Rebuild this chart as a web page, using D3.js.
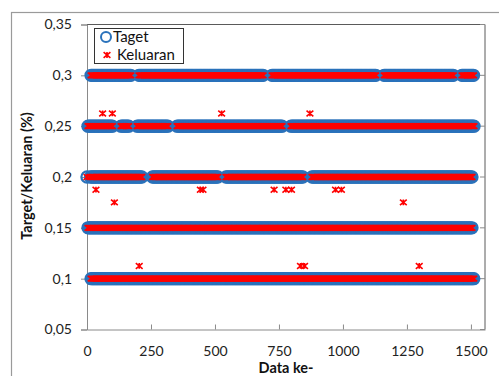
<!DOCTYPE html>
<html><head><meta charset="utf-8">
<script src="https://cdn.jsdelivr.net/npm/d3@7/dist/d3.min.js"></script>
<style>html,body{margin:0;padding:0;background:#fff;} svg{display:block}</style>
</head><body>
<script>
// ---- data ----
const xTickValues = [0, 250, 500, 750, 1000, 1250, 1500];
const yTickValues = [0.05, 0.1, 0.15, 0.2, 0.25, 0.3, 0.35];
const yTickLabels = ["0,05", "0,1", "0,15", "0,2", "0,25", "0,3", "0,35"];
const targetLevels = [0.1, 0.15, 0.2, 0.25, 0.3];
const recordStep = 5; // each target level recurs every 5 records ("Data ke-")
// record ranges in which each target level is present (small gaps visible in picture)
const runs010 = [[16, 1512]];
const runs015 = [[4, 1508]];
const runs020 = [[0, 0], [14, 218], [256, 511], [543, 847], [879, 1508]];
const runs025 = [[4, 101], [133, 164], [196, 320], [352, 765], [797, 1512]];
const runs030 = [[16, 171], [203, 691], [723, 1129], [1161, 1433], [1465, 1512]];
const levelRuns = [runs010, runs015, runs020, runs025, runs030];
// Keluaran points that deviate from the target
const keluaranOffX = [61, 99, 526, 871, 35, 443, 453, 731, 777, 799, 971, 994, 107, 1236, 204, 834, 850, 1298];
const keluaranOffY = [0.2625, 0.2625, 0.2625, 0.2625, 0.1875, 0.1875, 0.1875, 0.1875, 0.1875, 0.1875, 0.1875, 0.1875, 0.175, 0.175, 0.1125, 0.1125, 0.1125, 0.1125];

(function () {
// ---- build point table ----
const targetPts = [];
levelRuns.forEach((runs, li) => {
  runs.forEach(([a, b]) => {
    for (let v = a; v <= b; v += recordStep) targetPts.push({x: v, y: targetLevels[li]});
  });
});
const keluaranPts = targetPts.map(d => ({x: d.x, y: d.y}))
  .concat(keluaranOffX.map((v, i) => ({x: v, y: keluaranOffY[i]})));

// ---- drawing ----
const W = 499, H = 376;
const mLeft = 87, mRight = 485, mTop = 24.5, mBottom = 329.5;
const blue = "#2a72bb", red = "#ff0000";
const font = "Lato, 'Open Sans', sans-serif";

const svg = d3.select("body").append("svg").attr("width", W).attr("height", H);
svg.append("rect").attr("width", W).attr("height", H).attr("fill", "#fff");
svg.append("rect").attr("x", 11.5).attr("y", 12.5).attr("width", 600).attr("height", 400)
  .attr("fill", "none").attr("stroke", "#9a9a9a").attr("stroke-width", 1.2);

const x = d3.scaleLinear().domain([0, 1555]).range([mLeft, mRight]);
const y = d3.scaleLinear().domain([0.05, 0.35]).range([mBottom, mTop]);

// plot frame
svg.append("line").attr("x1", mLeft).attr("x2", mRight).attr("y1", mTop).attr("y2", mTop).attr("stroke", "#5a5a5a");
svg.append("line").attr("x1", mRight).attr("x2", mRight).attr("y1", mTop).attr("y2", mBottom).attr("stroke", "#5a5a5a");

// y axis
const yAxis = svg.append("g").attr("transform", `translate(${mLeft},0)`)
  .call(d3.axisLeft(y).tickValues(yTickValues).tickSize(6).tickPadding(9)
    .tickFormat((d, i) => yTickLabels[i]));
yAxis.select(".domain").attr("stroke", "#8a8a8a");
yAxis.selectAll(".tick line").attr("stroke", "#8a8a8a");
yAxis.selectAll("text").attr("font-family", font).attr("font-size", 14).attr("fill", "#222");

// right inner ticks
svg.append("g").selectAll("line").data(yTickValues).join("line")
  .attr("x1", mRight - 5).attr("x2", mRight).attr("y1", d => y(d)).attr("y2", d => y(d))
  .attr("stroke", "#8a8a8a");

// x axis
const xAxis = svg.append("g").attr("transform", `translate(0,${mBottom})`)
  .call(d3.axisBottom(x).tickValues(xTickValues).tickSizeInner(-5).tickSizeOuter(0).tickPadding(17)
    .tickFormat(d3.format("d")));
xAxis.select(".domain").attr("stroke", "#8a8a8a");
xAxis.selectAll(".tick line").attr("stroke", "#8a8a8a");
xAxis.selectAll("text").attr("font-family", font).attr("font-size", 14).attr("fill", "#222");

// Target circles
svg.append("g").selectAll("circle").data(targetPts).join("circle")
  .attr("cx", d => x(d.x)).attr("cy", d => y(d.y)).attr("r", 5.6)
  .attr("fill", "none").attr("stroke", blue).attr("stroke-width", 2.2);

// Keluaran stars
const starPath = "M-3.4,-2.8L3.4,2.8M-3.4,2.8L3.4,-2.8M0,-2.9L0,2.9";
svg.append("g").selectAll("path").data(keluaranPts).join("path")
  .attr("transform", d => `translate(${x(d.x)},${y(d.y)})`)
  .attr("d", starPath).attr("fill", "none").attr("stroke", red).attr("stroke-width", 1.6);

// axis titles
svg.append("text").attr("x", 286).attr("y", 373).attr("text-anchor", "middle")
  .attr("font-family", font).attr("font-weight", "bold").attr("font-size", 14.5).attr("fill", "#111")
  .text("Data ke-");
svg.append("text").attr("transform", "translate(32,176) rotate(-90)").attr("text-anchor", "middle")
  .attr("font-family", font).attr("font-weight", "bold").attr("font-size", 14.5).attr("fill", "#111")
  .text("Target/Keluaran (%)");

// legend
const lg = svg.append("g");
lg.append("rect").attr("x", 94.5).attr("y", 28.5).attr("width", 89).attr("height", 35)
  .attr("fill", "#fff").attr("stroke", "#333").attr("stroke-width", 1);
lg.append("circle").attr("cx", 106).attr("cy", 37).attr("r", 5)
  .attr("fill", "none").attr("stroke", blue).attr("stroke-width", 2);
lg.append("text").attr("x", 113).attr("y", 42).attr("font-family", font).attr("font-size", 15)
  .attr("fill", "#111").text("Taget");
lg.append("path").attr("transform", "translate(107,55)").attr("d", starPath)
  .attr("fill", "none").attr("stroke", red).attr("stroke-width", 1.6);
lg.append("text").attr("x", 117).attr("y", 59.5).attr("font-family", font).attr("font-size", 15)
  .attr("fill", "#111").text("Keluaran");
})();
</script>
</body></html>
